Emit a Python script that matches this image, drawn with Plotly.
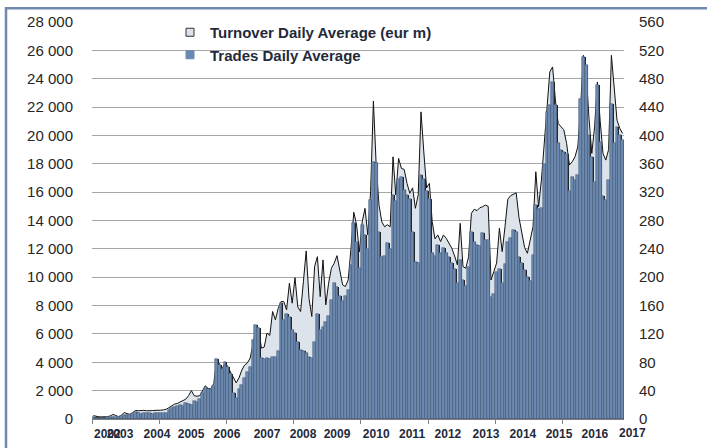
import plotly.graph_objects as go

# ---------------- data (monthly) ----------------
# Trades daily average (bars, read on the right axis, 0-560)
trades = [2.4, 2.0, 1.8, 1.8, 2.0, 2.2, 2.6, 3.2, 3.0, 2.8, 3.6, 5.2, 6.0, 5.6, 7.0, 9.4, 8.0, 7.6, 9.0, 8.4,
          8.0, 7.6, 8.4, 8.0, 8.6, 8.4, 9.0, 12, 16, 17, 18, 20, 19, 22, 21, 20, 26, 24, 28, 36,
          44, 42, 42, 46, 84, 76, 70, 80, 74, 64, 36, 30, 42, 48, 58, 66, 74, 112, 133, 128,
          86, 84, 86, 84, 88, 88, 96, 164, 140, 148, 144, 126, 121, 108, 98, 96, 93, 88, 86, 109,
          148, 126, 130, 137, 145, 168, 192, 186, 174, 166, 173, 182, 217, 277, 250, 213, 274, 260, 240, 309,
          363, 361, 264, 229, 230, 248, 240, 316, 308, 339, 342, 323, 316, 310, 264, 222, 220, 344, 339, 321,
          310, 234, 230, 245, 234, 241, 234, 229, 220, 212, 192, 224, 196, 188, 214, 264, 250, 245, 244, 262,
          252, 253, 172, 176, 208, 212, 192, 218, 250, 256, 267, 264, 229, 220, 210, 200, 194, 231, 302, 296,
          297, 360, 433, 443, 475, 443, 389, 379, 376, 374, 321, 342, 337, 344, 452, 511, 500, 400, 370, 335,
          471, 391, 314, 309, 337, 445, 389, 412, 400, 393]

# Turnover daily average (area, read on the left axis, 0-28 000)
turnover = [240, 190, 150, 150, 150, 160, 220, 320, 250, 160, 260, 460, 380, 330, 450, 600, 580, 600, 610, 580,
            560, 590, 610, 600, 620, 640, 690, 800, 950, 1050, 1100, 1200, 1300, 1400, 1650, 2000, 1650, 1600, 1650, 2050,
            2350, 2150, 2150, 2500, 4150, 3900, 3550, 3950, 3700, 3300, 2900, 2550, 2900, 3450, 3800, 3950, 4300, 5200, 6290, 6410,
            5000, 5070, 6060, 5900, 7580, 7000, 7800, 8280, 8280, 7700, 9580, 8170, 9970, 7900, 7580, 9690, 11850, 8500, 7230, 10750,
            11450, 8630, 11220, 8050, 9580, 10630, 10990, 11520, 10390, 9460, 9340, 9810, 12040, 14580, 13680, 11800, 13910, 14860, 12980, 16030,
            22420, 17910, 15090, 13910, 13560, 13700, 13560, 18490, 15800, 18380, 17680, 17600, 16620, 15920, 16300, 14860, 15800, 21660, 18840, 16300,
            16620, 13910, 12700, 12980, 12510, 12980, 12750, 12390, 12040, 11500, 10870, 13800, 10750, 10630, 11450, 14510, 14790, 14700, 14900, 14970,
            15090, 15000, 9800, 10400, 11000, 13450, 11800, 13560, 15500, 15750, 15850, 15950, 14200, 13000, 12100, 11690, 12630, 13560, 17440, 14970,
            16850, 19500, 21660, 24480, 24830, 22490, 20840, 20610, 20400, 19440, 17910, 18140, 18490, 19200, 22010, 25650, 24400, 21200, 18730, 20610,
            23770, 21000, 18730, 18260, 19000, 25650, 23420, 21080, 20490, 20140]

months = list(range(len(trades)))

year_labels = ["2002", "2003", "2004", "2005", "2006", "2007", "2008", "2009",
               "2010", "2011", "2012", "2013", "2014", "2015", "2016"]
year_label_pos = [5.0, 9.5, 22.7, 34.9, 47.7, 62.0, 74.9, 87.0,
                  101.0, 113.8, 126.6, 140.2, 153.4, 166.3, 179.1]
last_label = "2017"
last_label_pos = 192.4
tick_mark_pos = [-0.5, 23.5, 47.5, 71.5, 95.5, 119.5, 143.5, 167.5]

left_max, left_step = 28000, 2000
right_max, right_step = 560, 40

# ---------------- layout geometry ----------------
W, H = 707, 448
ML, MR, MT, MB = 92, 83, 22, 29
PW, PH = W - ML - MR, H - MT - MB
XR = [-0.5, len(trades) - 0.5]

def px_x(p):
    return (p - ML) / PW

def px_y(p):
    return (H - MB - p) / PH

FONT = "Arial, Liberation Sans, sans-serif"
BAR_COLOR = "#6B89B1"
BAR_EDGE = "#50647F"
AREA_FILL = "#DCE3EB"
TEXT_DARK = "#1F2A3A"

fig = go.Figure()

# area (turnover)
fig.add_trace(go.Scatter(
    x=months, y=turnover, mode="lines", fill="tozeroy",
    fillcolor=AREA_FILL, line=dict(color="#111111", width=1),
    name="Turnover Daily Average (eur m)", showlegend=False, yaxis="y",
    hoverinfo="skip"))

# bar shadow (dark strip visible where a bar is taller than its right neighbour)
fig.add_trace(go.Bar(
    x=months, y=trades, yaxis="y2", width=1, offset=-0.2,
    marker=dict(color="#1E1E1E", line=dict(width=0)),
    showlegend=False, hoverinfo="skip"))

# bars (trades)
fig.add_trace(go.Bar(
    x=months, y=trades, yaxis="y2", width=1, offset=-0.5,
    marker=dict(color=BAR_COLOR, line=dict(color=BAR_EDGE, width=0.6)),
    name="Trades Daily Average", showlegend=False))

# legend entries (small square keys)
fig.add_trace(go.Scatter(
    x=[None], y=[None], yaxis="y2", mode="markers",
    marker=dict(symbol="square", size=8, color=AREA_FILL, line=dict(color="#333333", width=1)),
    name="Turnover Daily Average (eur m)"))
fig.add_trace(go.Scatter(
    x=[None], y=[None], yaxis="y2", mode="markers",
    marker=dict(symbol="square", size=8, color=BAR_COLOR, line=dict(color=BAR_COLOR, width=1)),
    name="Trades Daily Average"))

fig.update_layout(
    width=W, height=H,
    margin=dict(l=ML, r=MR, t=MT, b=MB, pad=0, autoexpand=False),
    paper_bgcolor="white", plot_bgcolor="white",
    barmode="overlay", bargap=0,
    separators=". ",
    font=dict(family=FONT, color="#262626"),
    showlegend=True,
    legend=dict(x=px_x(170), y=px_y(16), xanchor="left", yanchor="top",
                bgcolor="rgba(0,0,0,0)", borderwidth=0,
                font=dict(family=FONT, size=15, color=TEXT_DARK, weight="bold"),
                traceorder="normal", itemwidth=30),
    xaxis=dict(range=XR, tickmode="array", tickvals=year_label_pos, ticktext=year_labels,
               ticks="", showgrid=False, zeroline=False, automargin=False, tickangle=0,
               showline=True, linecolor="#808080", linewidth=1,
               tickfont=dict(family=FONT, size=12, color=TEXT_DARK, weight="bold"),
               ticklabelstandoff=4,
               minor=dict(tickmode="array", tickvals=tick_mark_pos, ticks="outside",
                          ticklen=4, tickcolor="#808080", tickwidth=1, showgrid=False)),
    yaxis=dict(range=[0, left_max], dtick=left_step, tick0=0, tickformat=",d",
               showgrid=True, gridcolor="#A6A6A6", gridwidth=1, zeroline=False,
               showline=False, ticks="", ticklabelstandoff=18, automargin=False,
               tickfont=dict(family=FONT, size=15, color="#262626")),
    yaxis2=dict(range=[0, right_max], dtick=right_step, tick0=0, overlaying="y", side="right",
                showgrid=False, zeroline=False, showline=False, ticks="", automargin=False,
                ticklabelstandoff=14,
                tickfont=dict(family=FONT, size=15, color="#262626")),
    annotations=[dict(text=last_label, xref="paper", yref="paper",
                      x=(last_label_pos - XR[0]) / (XR[1] - XR[0]), y=px_y(433.5),
                      xanchor="center", yanchor="middle", showarrow=False,
                      font=dict(family=FONT, size=12, color=TEXT_DARK, weight="bold"))],
    shapes=[dict(type="rect", xref="paper", yref="paper",
                 x0=px_x(6), x1=px_x(W + 20), y0=px_y(H + 20), y1=px_y(8.3),
                 line=dict(color="#7089AD", width=2.5), fillcolor="rgba(0,0,0,0)",
                 layer="above")],
)

fig.write_html("out.html", config={"displayModeBar": False},
               post_script="document.body.style.margin='0';document.body.style.overflow='hidden';")
